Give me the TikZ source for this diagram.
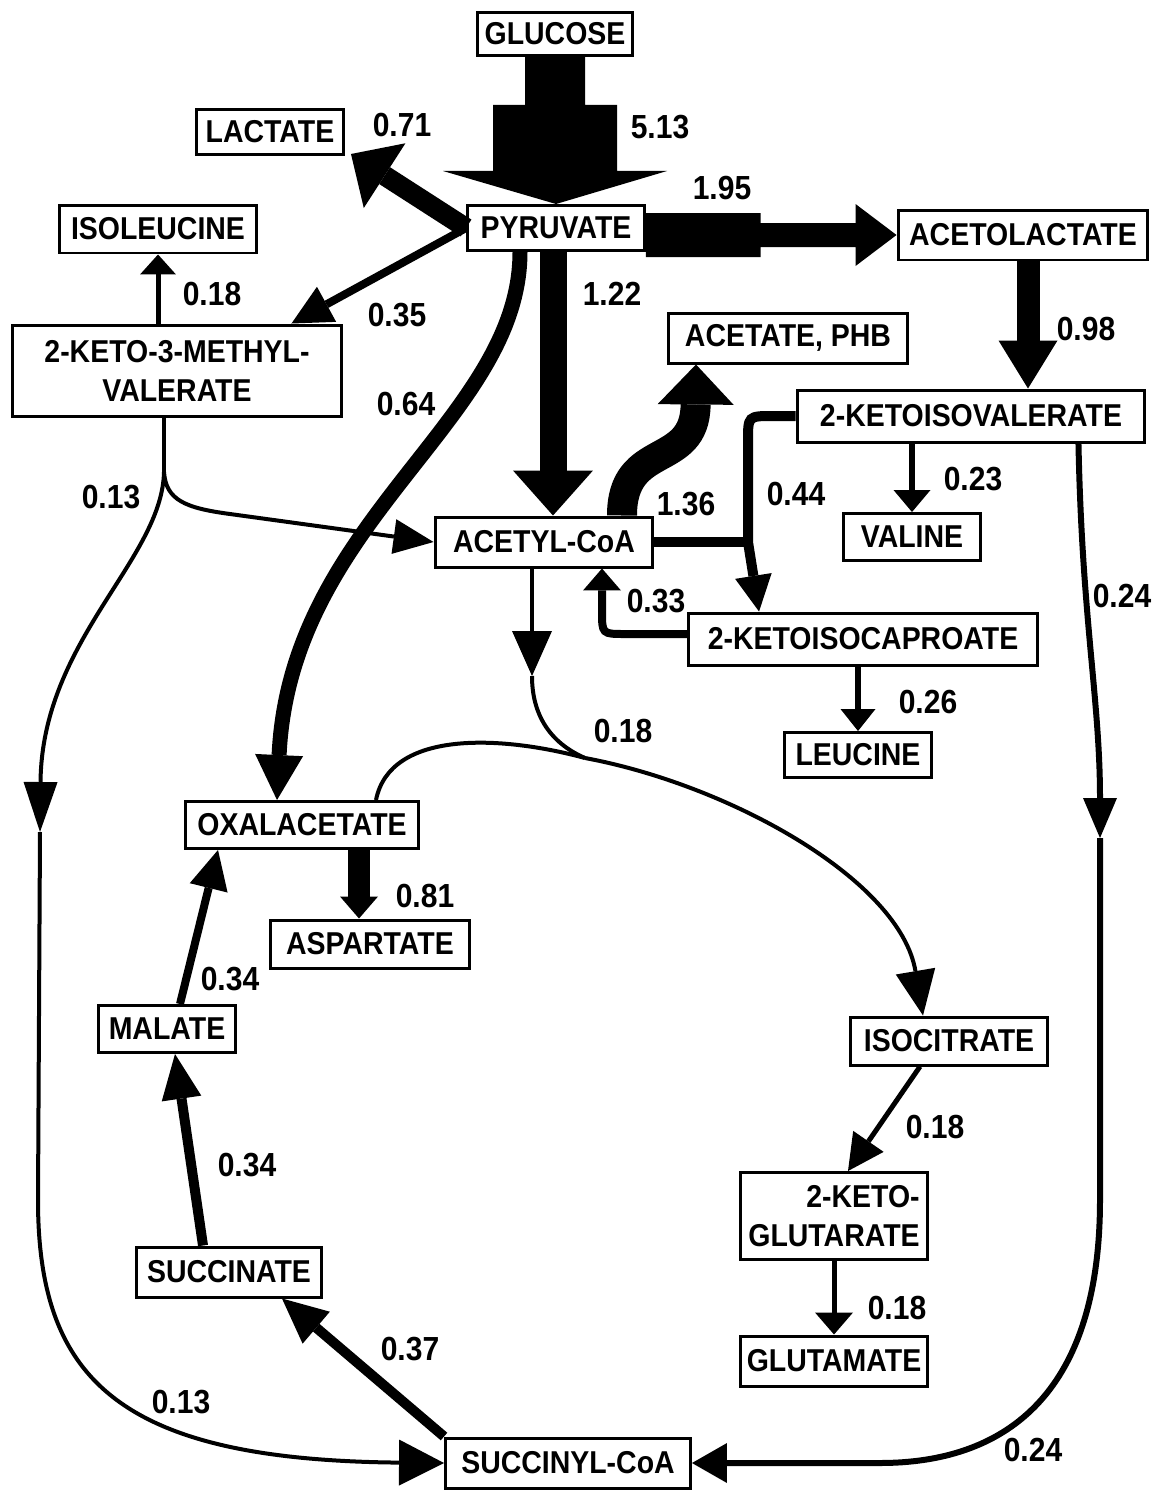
\documentclass[tikz,border=0pt]{standalone}
\usepackage{fontspec}
\newfontfamily\plotfont{Liberation Sans}[FakeStretch=0.9]
\usepackage{tikz}
\usetikzlibrary{arrows.meta,calc}
\tikzset{
  met/.style={draw, line width=0.06cm, fill=white, inner sep=0pt, align=center,
    font=\plotfont\bfseries\fontsize{18pt}{22pt}\selectfont},
  rate/.style={font=\plotfont\bfseries\fontsize{19pt}{21pt}\selectfont},
  flow/.style={line width=#1},
  ahead/.style 2 args={-{Triangle[length=#1,width=#2,line width=0pt]}}
}

\begin{document}
\begin{tikzpicture}[x=0.02cm,y=-0.02cm]
\useasboundingbox (0,0) rectangle (1160,1491);

% Metabolites
\node[met, minimum width=3.12cm, minimum height=0.86cm] (glucose) at (555,34) {GLUCOSE};
\node[met, minimum width=2.94cm, minimum height=0.9cm] (lactate) at (270,132) {LACTATE};
\node[met, minimum width=3.54cm, minimum height=0.9cm] (pyruvate) at (556,228) {PYRUVATE};
\node[met, minimum width=5.0cm, minimum height=1.0cm] (acetolactate) at (1023,235) {ACETOLACTATE};
\node[met, minimum width=3.96cm, minimum height=0.96cm] (isoleucine) at (158,229) {ISOLEUCINE};
\node[met, minimum width=6.6cm, minimum height=1.84cm] (kmv) at (177,371) {2-KETO-3-METHYL-\\VALERATE};
\node[met, minimum width=4.78cm, minimum height=1.0cm] (acetate) at (788,338) {ACETATE, PHB};
\node[met, minimum width=6.96cm, minimum height=1.04cm] (kiv) at (971,416) {2-KETOISOVALERATE};
\node[met, minimum width=2.74cm, minimum height=0.94cm] (valine) at (912,537) {VALINE};
\node[met, minimum width=4.36cm, minimum height=1.0cm] (acetylcoa) at (544,542) {ACETYL-CoA};
\node[met, minimum width=6.98cm, minimum height=1.04cm] (kic) at (863,639) {2-KETOISOCAPROATE};
\node[met, minimum width=2.94cm, minimum height=0.9cm] (leucine) at (858,755) {LEUCINE};
\node[met, minimum width=4.66cm, minimum height=0.94cm] (oxalacetate) at (302,825) {OXALACETATE};
\node[met, minimum width=4.0cm, minimum height=0.96cm] (aspartate) at (370,944) {ASPARTATE};
\node[met, minimum width=2.76cm, minimum height=0.94cm] (malate) at (167,1029) {MALATE};
\node[met, minimum width=3.96cm, minimum height=0.96cm] (isocitrate) at (949,1041) {ISOCITRATE};
\node[met, minimum width=3.76cm, minimum height=1.74cm, align=right] (kg) at (834,1216) {2-KETO-\\GLUTARATE};
\node[met, minimum width=3.7cm, minimum height=1.0cm] (succinate) at (229,1272) {SUCCINATE};
\node[met, minimum width=3.76cm, minimum height=1.0cm] (glutamate) at (834,1361) {GLUTAMATE};
\node[met, minimum width=4.9cm, minimum height=1.0cm] (succinylcoa) at (568,1463) {SUCCINYL-CoA};

% Flux values
\node[rate] (r513) at (660,127) {5.13};
\node[rate] (r071) at (402,125) {0.71};
\node[rate] (r195) at (722,188) {1.95};
\node[rate] (r018a) at (212,294) {0.18};
\node[rate] (r035) at (397,315) {0.35};
\node[rate] (r122) at (612,294) {1.22};
\node[rate] (r098) at (1086,329) {0.98};
\node[rate] (r064) at (406,404) {0.64};
\node[rate] (r013a) at (111,497) {0.13};
\node[rate] (r136) at (686,504) {1.36};
\node[rate] (r044) at (796,494) {0.44};
\node[rate] (r023) at (973,479) {0.23};
\node[rate] (r024a) at (1122,596) {0.24};
\node[rate] (r033) at (656,601) {0.33};
\node[rate] (r026) at (928,702) {0.26};
\node[rate] (r018b) at (623,731) {0.18};
\node[rate] (r081) at (425,896) {0.81};
\node[rate] (r034a) at (230,979) {0.34};
\node[rate] (r034b) at (247,1165) {0.34};
\node[rate] (r018c) at (935,1127) {0.18};
\node[rate] (r018d) at (897,1308) {0.18};
\node[rate] (r037) at (410,1349) {0.37};
\node[rate] (r013b) at (181,1402) {0.13};
\node[rate] (r024b) at (1033,1450) {0.24};

% Free points on the long connectors
\coordinate (split) at (164,472);
\coordinate (lmid) at (40,832);
\coordinate (rmid) at (1100,838);
\coordinate (amid) at (532,676);
\coordinate (merge) at (585,758);
\coordinate (join) at (748,542);

% Glycolysis block arrows
\fill ($(glucose.south)+(-30,0)$) -- ++(0,48) -- ++(-32,0) -- ++(0,66) -- ++(-50,0)
  -- (pyruvate.north) -- ($(glucose.south)+(112,114)$) -- ++(-50,0) -- ++(0,-66)
  -- ++(-32,0) -- ++(0,-48) -- cycle;
\fill ($(pyruvate.east |- acetolactate.west)+(0,-22)$) -- ($(acetolactate.west)+(-136,-22)$)
  -- ++(0,10) -- ++(95,0) -- ++(0,-19) -- (acetolactate.west) -- ++(-41,31) -- ++(0,-19)
  -- ++(-95,0) -- ++(0,10) -- ($(pyruvate.east |- acetolactate.west)+(0,22)$) -- cycle;

% Pyruvate branches
\draw[flow=0.4cm, ahead={0.8cm}{1.54cm}] (pyruvate.west) -- ($(lactate.south east)+(6,-2)$);
\draw[flow=0.16cm, ahead={0.8cm}{0.8cm}] (pyruvate.west) -- ($(kmv.north east)+(-52,0)$);
\draw[flow=0.54cm, ahead={0.9cm}{1.6cm}] ($(pyruvate.south)+(-3,0)$) -- ($(pyruvate.south |- acetylcoa.north)+(-3,0)$);
\draw[flow=0.3cm, ahead={0.9cm}{0.96cm}] ($(pyruvate.south)+(-36,0)$) .. controls (520,420) and (290,520) .. ($(oxalacetate.north)+(-25,0)$);
\draw[flow=0.1cm, ahead={0.4cm}{0.72cm}] (isoleucine.south |- kmv.north) -- (isoleucine.south);

% Branched chain side
\draw[flow=0.46cm, ahead={0.96cm}{1.18cm}] ($(acetolactate.south)+(5,0)$) -- ($(acetolactate.south |- kiv.north)+(5,0)$);
\draw[flow=0.12cm, ahead={0.44cm}{0.74cm}] (valine.north |- kiv.south) -- (valine.north);
\draw[flow=0.2cm, ahead={0.72cm}{0.74cm}] (kiv.west) -- (773,416) .. controls (748,416) .. (748,441) -- (join) -- ($(kic.north west)+(72,0)$);
\draw[flow=0.2cm] (acetylcoa.east) -- (join);
\draw[flow=0.16cm, ahead={0.44cm}{0.76cm}] ($(kic.west)+(0,-5)$) -- (625,634) .. controls (602,634) .. (602,611) -- ($(acetylcoa.south)+(58,0)$);
\draw[flow=0.12cm, ahead={0.44cm}{0.7cm}] (leucine.north |- kic.south) -- (leucine.north);
\draw[flow=0.6cm, ahead={0.8cm}{1.52cm}] ($(acetylcoa.north)+(78,0)$) .. controls (622,440) and (695,470) .. ($(acetate.south)+(-92,0)$);

% 2-keto-3-methylvalerate split
\draw[flow=0.08cm] ($(kmv.south)+(-13,0)$) -- (split);
\draw[flow=0.08cm, ahead={0.8cm}{0.7cm}] (split) .. controls (166,500) and (185,508) .. (230,514) -- (acetylcoa.west);
\draw[flow=0.08cm, ahead={1.0cm}{0.68cm}] (split) .. controls (162,560) and (42,640) .. (lmid);
\draw[flow=0.08cm, ahead={0.9cm}{0.92cm}] (lmid) -- (38,1200) .. controls (38,1380) and (120,1460) .. (succinylcoa.west);

% 2-ketoisovalerate to succinyl-CoA
\draw[flow=0.12cm, ahead={0.8cm}{0.68cm}] ($(kiv.south east)+(-68,0)$) .. controls (1082,620) and (1100,700) .. (rmid);
\draw[flow=0.12cm, ahead={0.7cm}{0.8cm}] (rmid) -- (1100,1200) .. controls (1100,1400) and (1000,1463) .. (880,1463) -- (succinylcoa.east);

% Citric acid cycle
\draw[flow=0.08cm, ahead={0.9cm}{0.8cm}] ($(acetylcoa.south)+(-12,0)$) -- (amid);
\draw[flow=0.08cm] (amid) .. controls (532,720) and (555,745) .. (merge);
\draw[flow=0.08cm] ($(oxalacetate.north)+(74,0)$) .. controls (390,730) and (500,735) .. (merge);
\draw[flow=0.08cm, ahead={0.9cm}{0.8cm}] (merge) .. controls (730,785) and (900,880) .. ($(isocitrate.north)+(-26,0)$);
\draw[flow=0.1cm, ahead={0.72cm}{0.74cm}] ($(isocitrate.south)+(-29,0)$) -- ($(kg.north)+(14,0)$);
\draw[flow=0.1cm, ahead={0.44cm}{0.76cm}] (kg.south) -- (kg.south |- glutamate.north);
\draw[flow=0.44cm, ahead={0.44cm}{0.76cm}] ($(oxalacetate.south)+(57,0)$) -- ($(oxalacetate.south |- aspartate.north)+(57,0)$);
\draw[flow=0.16cm, ahead={0.78cm}{0.78cm}] ($(malate.north)+(13,0)$) -- ($(oxalacetate.south)+(-84,0)$);
\draw[flow=0.2cm, ahead={0.9cm}{0.8cm}] ($(succinate.north)+(-26,0)$) -- ($(malate.south)+(8,0)$);
\draw[flow=0.2cm, ahead={0.9cm}{0.84cm}] (succinylcoa.north west) -- ($(succinate.south east)+(-41,0)$);

\end{tikzpicture}
\end{document}
